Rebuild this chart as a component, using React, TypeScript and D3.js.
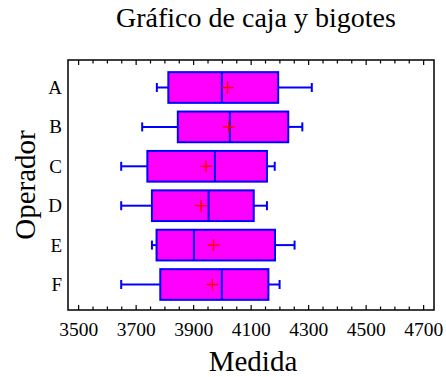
import * as d3 from 'd3';
import React from 'react';

const operators = ['A', 'B', 'C', 'D', 'E', 'F'];
const whiskerLow = [3772, 3721, 3648, 3648, 3755, 3648];
const q1 = [3812, 3845, 3739, 3755, 3771, 3784];
const medians = [3998, 4026, 3974, 3952, 3901, 3998];
const means = [4018, 4022, 3943, 3926, 3969, 3965];
const q3 = [4194, 4229, 4155, 4109, 4183, 4160];
const whiskerHigh = [4311, 4278, 4182, 4155, 4251, 4199];
const xTickLabels = [3500, 3700, 3900, 4100, 4300, 4500, 4700];

const width = 446;
const height = 377;
const plot = { left: 68, right: 434, top: 60, bottom: 310 };
const font = '"Liberation Serif", "Times New Roman", serif';

export default function App() {
    const x = d3.scaleLinear().domain([3463, 4736]).range([plot.left, plot.right]);
    const y = d3.scaleBand<string>()
        .domain(operators)
        .range([plot.top + 1, plot.bottom + 1])
        .paddingInner(0.221)
        .paddingOuter(0.283);
    const bw = y.bandwidth();
    const ticks = d3.range(3500, 4701, 50);
    const capH = 9;
    const crossH = 6;

    return (
        <svg width={width} height={height} style={{ position: 'absolute', left: 0, top: 0 }}>
            <rect width={width} height={height} fill="#fff" />
            <text x={256} y={27} textAnchor="middle" fontFamily={font} fontSize={28}>
                Gráfico de caja y bigotes
            </text>

            {/* ticks, inward on top and bottom */}
            {ticks.map(t => {
                const major = xTickLabels.includes(t);
                const len = major ? 5 : 3.5;
                return (
                    <g key={t}>
                        <line x1={x(t)} x2={x(t)} y1={plot.bottom} y2={plot.bottom - len} stroke="#000" strokeWidth={1.2} />
                        <line x1={x(t)} x2={x(t)} y1={plot.top} y2={plot.top + len} stroke="#000" strokeWidth={1.2} />
                    </g>
                );
            })}
            {xTickLabels.map(t => (
                <text key={t} x={x(t)} y={336} textAnchor="middle" fontFamily={font} fontSize={19.5}>{t}</text>
            ))}

            {operators.map((op, i) => {
                const cy = y(op)! + bw / 2;
                return (
                    <g key={op}>
                        <text x={62} y={cy + 6.5} textAnchor="end" fontFamily={font} fontSize={19}>{op}</text>
                        <line x1={x(whiskerLow[i])} x2={x(q1[i])} y1={cy} y2={cy} stroke="#0000ff" strokeWidth={2} />
                        <line x1={x(q3[i])} x2={x(whiskerHigh[i])} y1={cy} y2={cy} stroke="#0000ff" strokeWidth={2} />
                        <line x1={x(whiskerLow[i])} x2={x(whiskerLow[i])} y1={cy - capH / 2} y2={cy + capH / 2} stroke="#0000ff" strokeWidth={2} />
                        <line x1={x(whiskerHigh[i])} x2={x(whiskerHigh[i])} y1={cy - capH / 2} y2={cy + capH / 2} stroke="#0000ff" strokeWidth={2} />
                        <rect x={x(q1[i])} y={y(op)} width={x(q3[i]) - x(q1[i])} height={bw} fill="#ff00ff" stroke="#0000ff" strokeWidth={2} />
                        <line x1={x(medians[i])} x2={x(medians[i])} y1={y(op)} y2={y(op)! + bw} stroke="#0000ff" strokeWidth={2} />
                        <line x1={x(means[i]) - crossH} x2={x(means[i]) + crossH} y1={cy} y2={cy} stroke="#ff0000" strokeWidth={1.5} />
                        <line x1={x(means[i])} x2={x(means[i])} y1={cy - crossH} y2={cy + crossH} stroke="#ff0000" strokeWidth={1.5} />
                    </g>
                );
            })}

            <rect x={plot.left} y={plot.top} width={plot.right - plot.left} height={plot.bottom - plot.top}
                fill="none" stroke="#000" strokeWidth={1.5} />

            <text transform={`translate(35, ${185}) rotate(-90)`} textAnchor="middle"
                fontFamily={font} fontSize={29}>Operador</text>
            <text x={253} y={371} textAnchor="middle" fontFamily={font} fontSize={29}>Medida</text>
        </svg>
    );
}
